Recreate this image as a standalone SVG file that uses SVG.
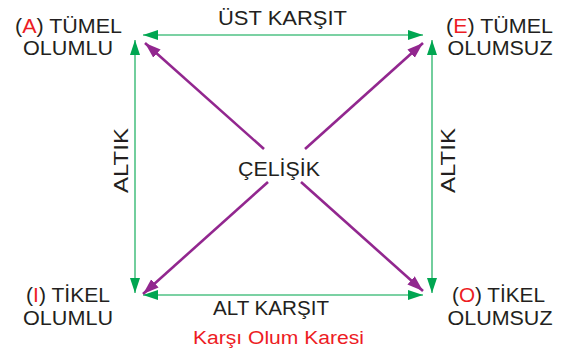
<svg xmlns="http://www.w3.org/2000/svg" width="571" height="350" viewBox="0 0 571 350">
<style>
text{font-family:"Liberation Sans",Arial,sans-serif;fill:#231f20;}
.lbl{font-size:20.5px;text-anchor:middle;}
.red{fill:#ed1c24;}
.g{stroke:#4fc285;stroke-width:1.6;fill:none;}
.p{stroke:#92278f;stroke-width:2.6;fill:none;}
</style>
<defs>
<marker id="ga" markerUnits="userSpaceOnUse" markerWidth="16" markerHeight="12" viewBox="0 0 16 12" refX="15" refY="6" orient="auto-start-reverse">
<path d="M0,1 L15,6 L0,11 Z" fill="#00a651"/>
</marker>
<marker id="pa" markerUnits="userSpaceOnUse" markerWidth="17" markerHeight="13" viewBox="0 0 17 13" refX="16" refY="6.5" orient="auto-start-reverse">
<path d="M0,1 L16,6.5 L0,12 Z" fill="#92278f"/>
</marker>
</defs>
<g id="connectors">
<line class="g" x1="143" y1="35" x2="423" y2="35" marker-start="url(#ga)" marker-end="url(#ga)"/>
<line class="g" x1="143" y1="295" x2="423" y2="295" marker-start="url(#ga)" marker-end="url(#ga)"/>
<line class="g" x1="135" y1="40" x2="135" y2="293" marker-start="url(#ga)" marker-end="url(#ga)"/>
<line class="g" x1="432" y1="40" x2="432" y2="293" marker-start="url(#ga)" marker-end="url(#ga)"/>
<line class="p" x1="264" y1="149" x2="145" y2="43" marker-end="url(#pa)"/>
<line class="p" x1="301" y1="182" x2="423" y2="291" marker-end="url(#pa)"/>
<line class="p" x1="305" y1="149" x2="423" y2="43" marker-end="url(#pa)"/>
<line class="p" x1="268" y1="182" x2="143" y2="294" marker-end="url(#pa)"/>
</g>
<g id="nodeA">
<text class="lbl" x="68.5" y="33" textLength="107" lengthAdjust="spacingAndGlyphs">(<tspan class="red">A</tspan>) TÜMEL</text>
<text class="lbl" x="68" y="55" textLength="90" lengthAdjust="spacingAndGlyphs">OLUMLU</text>
</g>
<g id="nodeE">
<text class="lbl" x="499.5" y="33" textLength="107" lengthAdjust="spacingAndGlyphs">(<tspan class="red">E</tspan>) TÜMEL</text>
<text class="lbl" x="500" y="55" textLength="105" lengthAdjust="spacingAndGlyphs">OLUMSUZ</text>
</g>
<g id="nodeI">
<text class="lbl" x="68" y="302" textLength="84" lengthAdjust="spacingAndGlyphs">(<tspan class="red">I</tspan>) TİKEL</text>
<text class="lbl" x="68" y="325" textLength="90" lengthAdjust="spacingAndGlyphs">OLUMLU</text>
</g>
<g id="nodeO">
<text class="lbl" x="498.5" y="302" textLength="93" lengthAdjust="spacingAndGlyphs">(<tspan class="red">O</tspan>) TİKEL</text>
<text class="lbl" x="500" y="325" textLength="105" lengthAdjust="spacingAndGlyphs">OLUMSUZ</text>
</g>
<g id="labels">
<text class="lbl" x="282.5" y="25" textLength="129" lengthAdjust="spacingAndGlyphs">ÜST KARŞIT</text>
<text class="lbl" x="271" y="315" textLength="116" lengthAdjust="spacingAndGlyphs">ALT KARŞIT</text>
<text class="lbl" x="279" y="176" textLength="82" lengthAdjust="spacingAndGlyphs">ÇELİŞİK</text>
<text class="lbl" transform="translate(128,160.5) rotate(-90)" x="0" y="0" textLength="65" lengthAdjust="spacingAndGlyphs">ALTIK</text>
<text class="lbl" transform="translate(455,160.5) rotate(-90)" x="0" y="0" textLength="65" lengthAdjust="spacingAndGlyphs">ALTIK</text>
<text class="red" style="font-size:18px;text-anchor:middle" x="278.5" y="344" textLength="171" lengthAdjust="spacingAndGlyphs">Karşı Olum Karesi</text>
</g>
</svg>
